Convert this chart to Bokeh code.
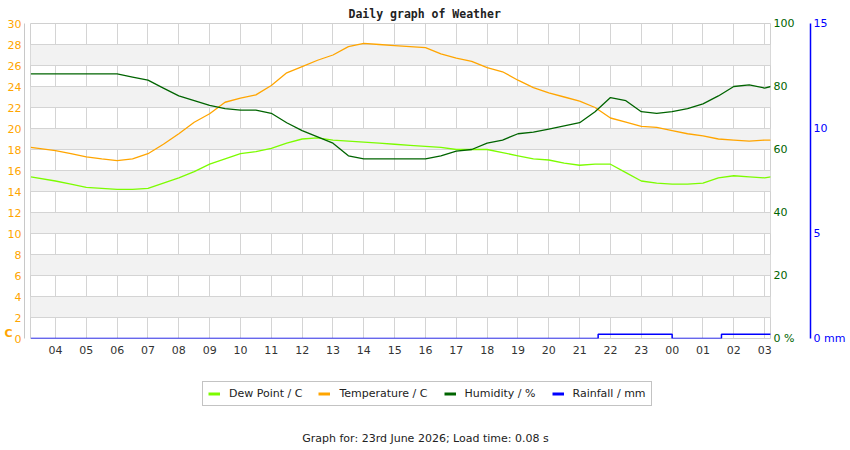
from bokeh.plotting import figure
from bokeh.models import (Range1d, LinearAxis, FixedTicker, Legend, LegendItem, Title, Label)
from bokeh.layouts import column
from bokeh.embed import file_html
from bokeh.resources import INLINE

# ---- data (hours since midnight of 23 June; >24 = next day) ----
times = [3.2, 4.0, 4.5, 5.0, 5.5, 6.0, 6.5, 7.0, 7.5, 8.0, 8.5, 9.0, 9.5, 10.0, 10.5,
         11.0, 11.5, 12.0, 12.5, 13.0, 13.5, 14.0, 14.5, 15.0, 15.5, 16.0, 16.5, 17.0,
         17.5, 18.0, 18.5, 19.0, 19.5, 20.0, 20.5, 21.0, 21.5, 22.0, 22.5, 23.0, 23.5,
         24.0, 24.5, 25.0, 25.5, 26.0, 26.5, 27.0, 27.2]
temperature = [18.2, 17.9, 17.6, 17.3, 17.1, 16.95, 17.1, 17.6, 18.5, 19.5, 20.6, 21.4,
               22.5, 22.9, 23.2, 24.1, 25.3, 25.9, 26.5, 27.0, 27.8, 28.1, 28.0, 27.9,
               27.8, 27.7, 27.1, 26.7, 26.4, 25.8, 25.4, 24.6, 23.9, 23.4, 23.0, 22.6,
               22.0, 21.0, 20.6, 20.2, 20.1, 19.8, 19.5, 19.3, 19.0, 18.9, 18.8, 18.9, 18.9]
dew_point = [15.4, 15.0, 14.7, 14.4, 14.3, 14.2, 14.2, 14.3, 14.8, 15.3, 15.9, 16.6,
             17.1, 17.6, 17.8, 18.1, 18.6, 19.0, 19.1, 18.9, 18.8, 18.7, 18.6, 18.5,
             18.4, 18.3, 18.2, 18.0, 18.0, 18.0, 17.7, 17.4, 17.1, 17.0, 16.7, 16.5,
             16.6, 16.6, 15.8, 15.0, 14.8, 14.7, 14.7, 14.8, 15.3, 15.5, 15.4, 15.3, 15.4]
humidity = [84, 84, 84, 84, 84, 84, 83, 82, 79.5, 77, 75.5, 74, 73, 72.5, 72.5, 71.5,
            68.5, 66, 64, 62, 58, 57, 57, 57, 57, 57, 58, 59.5, 60, 62, 63, 65, 65.5,
            66.5, 67.5, 68.5, 72, 76.5, 75.5, 72, 71.5, 72, 73, 74.5, 77, 80, 80.5,
            79.5, 80]
rain_times = [3.2, 21.6, 24.0, 25.6, 27.2]
rainfall = [0.0, 0.2, 0.0, 0.2, 0.2]

hour_ticks = [4, 5, 6, 7, 8, 9, 10, 11, 12, 13, 14, 15, 16, 17, 18, 19, 20, 21, 22,
              23, 24, 25, 26, 27]
hour_labels = ["04", "05", "06", "07", "08", "09", "10", "11", "12", "13", "14", "15",
               "16", "17", "18", "19", "20", "21", "22", "23", "00", "01", "02", "03"]
temp_ticks = [0, 2, 4, 6, 8, 10, 12, 14, 16, 18, 20, 22, 24, 26, 28, 30]
hum_ticks = [0, 20, 40, 60, 80, 100]
rain_ticks = [0, 5, 10, 15]

TEMP_C = "#ffa500"
DEW_C = "#7cfc00"
HUM_C = "#006400"
RAIN_C = "#0000ff"
FONT = "DejaVu Sans"
NAN = float("nan")

p = figure(width=850, height=365, output_backend="svg", toolbar_location=None,
           x_range=Range1d(3.19, 27.19), y_range=Range1d(0, 30),
           x_axis_location=None, y_axis_location=None,
           min_border_left=30, min_border_right=80, min_border_top=23,
           min_border_bottom=27)
p.outline_line_color = "#d0d0d0"
p.background_fill_color = "white"
p.border_fill_color = "white"
p.extra_y_ranges = {"hum": Range1d(0, 100), "rain": Range1d(0, 15)}

# title
p.title = Title(text="Daily graph of Weather", align="left", offset=318,
                text_font="DejaVu Sans Mono", text_font_size="11.5px",
                text_font_style="bold", text_color="#222222", standoff=6)


def plain_axis(axis, color, standoff):
    axis.major_tick_line_color = None
    axis.minor_tick_line_color = None
    axis.major_tick_out = 0
    axis.major_tick_in = 0
    axis.major_label_standoff = standoff
    axis.major_label_text_font = FONT
    axis.major_label_text_font_size = "11px"
    axis.major_label_text_color = color


# x axis
xax = LinearAxis(ticker=FixedTicker(ticks=hour_ticks),
                 major_label_overrides={t: l for t, l in zip(hour_ticks, hour_labels)})
plain_axis(xax, "#333333", 7)
xax.axis_line_color = None
p.add_layout(xax, "below")

# left: spacer, temperature axis, unit
spacer = LinearAxis(ticker=FixedTicker(ticks=[15]), major_label_overrides={15: ""})
spacer.axis_line_color = None
spacer.major_tick_line_color = None
spacer.major_tick_out = 6
spacer.major_tick_in = 0
spacer.major_label_standoff = 0
spacer.major_label_text_font_size = "1px"
p.add_layout(spacer, "left")

tax = LinearAxis(ticker=FixedTicker(ticks=temp_ticks))
plain_axis(tax, TEMP_C, 3)
tax.axis_line_color = "#c8c8c8"
p.add_layout(tax, "left")

cax = LinearAxis(ticker=FixedTicker(ticks=[0.45]), major_label_overrides={0.45: "C"})
plain_axis(cax, TEMP_C, -8)
cax.axis_line_color = None
cax.major_label_text_font_style = "bold"
p.add_layout(cax, "left")

# right: humidity axis, then rainfall axis
hax = LinearAxis(y_range_name="hum", ticker=FixedTicker(ticks=hum_ticks),
                 major_label_overrides={0: "0 %"})
plain_axis(hax, HUM_C, 3)
hax.axis_line_color = None
hax.axis_label = " "
hax.axis_label_standoff = 0
hax.axis_label_text_font_size = "9px"
p.add_layout(hax, "right")

rax = LinearAxis(y_range_name="rain", ticker=FixedTicker(ticks=rain_ticks),
                 major_label_overrides={0: "0 mm"})
plain_axis(rax, RAIN_C, 3)
rax.axis_line_color = RAIN_C
rax.axis_line_width = 1.5
p.add_layout(rax, "right")

# grids
p.xgrid.ticker = FixedTicker(ticks=hour_ticks)
p.xgrid.grid_line_color = "#d4d4d4"
p.ygrid.ticker = FixedTicker(ticks=temp_ticks)
p.ygrid.grid_line_color = "#d4d4d4"
p.ygrid.band_fill_color = "#f2f2f2"
p.ygrid.band_fill_alpha = 1.0

# series
p.line(times, dew_point, line_color=DEW_C, line_width=1.3)
p.line(times, temperature, line_color=TEMP_C, line_width=1.3)
p.line(times, humidity, line_color=HUM_C, line_width=1.3, y_range_name="hum")
p.step(rain_times, rainfall, mode="after", line_color=RAIN_C, line_width=1.5,
       y_range_name="rain")

# ---- legend + footer strip (its frame is aligned with the main frame) ----
q = figure(width=850, height=85, output_backend="svg", toolbar_location=None,
           x_range=Range1d(0, 1), y_range=Range1d(0, 1),
           x_axis_location=None, y_axis_location=None, min_border=0)
q.outline_line_color = None
q.xgrid.visible = False
q.ygrid.visible = False
q.border_fill_color = "white"
lg_dew = q.line([NAN], [NAN], line_color=DEW_C, line_width=3)
lg_temp = q.line([NAN], [NAN], line_color=TEMP_C, line_width=3)
lg_hum = q.line([NAN], [NAN], line_color=HUM_C, line_width=3)
lg_rain = q.line([NAN], [NAN], line_color=RAIN_C, line_width=3)
legend = Legend(items=[LegendItem(label="Dew Point / C", renderers=[lg_dew]),
                       LegendItem(label="Temperature / C", renderers=[lg_temp]),
                       LegendItem(label="Humidity / %", renderers=[lg_hum]),
                       LegendItem(label="Rainfall / mm", renderers=[lg_rain])],
                orientation="horizontal", location=(172, 44))
legend.label_text_font = FONT
legend.label_text_font_size = "11px"
legend.label_text_color = "#222222"
legend.glyph_width = 12
legend.glyph_height = 13
legend.label_height = 13
legend.label_standoff = 9
legend.spacing = 16
legend.padding = 5
legend.margin = 0
legend.border_line_color = "#888888"
legend.border_line_width = 1
legend.background_fill_color = "white"
legend.background_fill_alpha = 1.0
q.add_layout(legend, "center")

q.add_layout(Label(x=395, y=12, x_units="screen", y_units="screen",
                   text="Graph for: 23rd June 2026; Load time: 0.08 s",
                   text_font=FONT, text_font_size="11px", text_color="#222222",
                   text_align="center", text_baseline="middle"))

layout = column(p, q, spacing=0)
open("out.html", "w").write(file_html(layout, INLINE))
